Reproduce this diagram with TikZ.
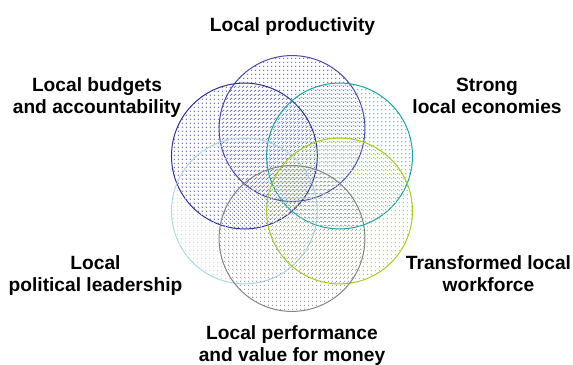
\documentclass[tikz,border=0pt]{standalone}
\usepackage{fontspec}
\setmainfont{Liberation Sans}
\usetikzlibrary{patterns}

\definecolor{prodcol}{RGB}{74,74,170}
\definecolor{budgetcol}{RGB}{48,48,146}
\definecolor{economycol}{RGB}{24,164,172}
\definecolor{workforcecol}{RGB}{164,208,24}
\definecolor{leadercol}{RGB}{172,216,226}
\definecolor{valuecol}{RGB}{132,132,132}

% small slanted dash, one offset per circle
\newcommand{\venndash}[3]{%
  \pgfdeclarepatternformonly{#1}{\pgfpointorigin}{\pgfqpoint{2.7pt}{2.7pt}}{\pgfqpoint{2.7pt}{2.7pt}}{%
    \pgfsetlinewidth{0.6pt}%
    \pgfpathmoveto{\pgfpoint{#2pt}{#3pt}}%
    \pgfpathlineto{\pgfpoint{#2pt+0.7pt}{#3pt+0.7pt}}%
    \pgfusepath{stroke}}}
\venndash{dashprod}{0.3}{0.3}
\venndash{dashbudget}{1.6}{0.3}
\venndash{dasheconomy}{0.3}{1.6}
\venndash{dashworkforce}{1.6}{1.6}
\venndash{dashleader}{0.95}{1.6}
\venndash{dashvalue}{0.95}{0.3}

\begin{document}
\begin{tikzpicture}[y=-1cm,
  venn/.style={circle,draw=#1,pattern color=#1!85!white,line width=0.75pt,minimum size=3.85cm,inner sep=0pt},
  topic/.style={text=black,align=center,anchor=base,font=\fontsize{14.4}{16.5}\selectfont\bfseries}]
\useasboundingbox (0,0) rectangle (15.127,9.61);

% circles
\node[venn=prodcol,pattern=dashprod] (prod) at (7.709,3.392) {};
\node[venn=budgetcol,pattern=dashbudget] (budget) at (6.452,4.118) {};
\node[venn=economycol,pattern=dasheconomy] (economy) at (8.965,4.118) {};
\node[venn=leadercol,pattern=dashleader] (leader) at (6.452,5.570) {};
\node[venn=workforcecol,pattern=dashworkforce] (workforce) at (8.965,5.570) {};
\node[venn=valuecol,pattern=dashvalue] (value) at (7.709,6.296) {};

% labels (base = last line)
\node[topic] (prodtext) at (7.722,0.825) {Local productivity};
\node[topic] (budgettext) at (2.561,2.985) {Local budgets\\and accountability};
\node[topic] (economytext) at (12.857,2.985) {Strong\\local economies};
\node[topic] (leadertext) at (2.521,7.69) {Local\\political leadership};
\node[topic] (workforcetext) at (12.896,7.69) {Transformed local\\workforce};
\node[topic] (valuetext) at (7.709,9.555) {Local performance\\and value for money};

\end{tikzpicture}
\end{document}
